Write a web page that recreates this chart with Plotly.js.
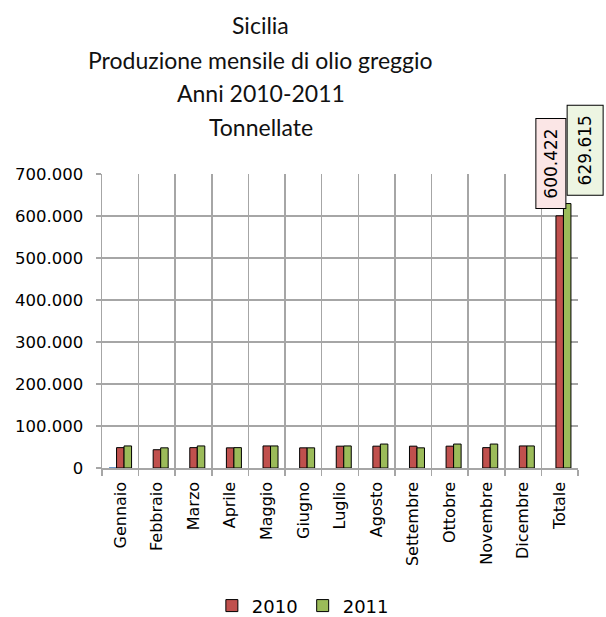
<!DOCTYPE html>
<html>
<head>
<meta charset="utf-8">
<script src="https://cdn.plot.ly/plotly-3.0.1.min.js"></script>
<style>
  html, body { margin: 0; padding: 0; background: #fff; }
  #chart { width: 606px; height: 617px; }
</style>
</head>
<body>
<div id="chart"></div>
<script>
const categories = ['Gennaio','Febbraio','Marzo','Aprile','Maggio','Giugno','Luglio','Agosto','Settembre','Ottobre','Novembre','Dicembre','Totale'];
const valuesHidden = [2000, 0, 0, 0, 0, 0, 0, 0, 0, 0, 0, 0, 0];
const values2010 = [48500, 43500, 48500, 48000, 52500, 48000, 52000, 52000, 52000, 52000, 48500, 52500, 600422];
const values2011 = [52500, 48000, 52500, 48500, 52500, 48000, 52500, 57000, 48000, 57000, 57000, 52500, 629615];
const seriesNames = ['2010', '2011'];
const titleLines = ['Sicilia', 'Produzione mensile di olio greggio', 'Anni 2010-2011', 'Tonnellate'];

function fmt(v) { return String(v).replace(/\B(?=(\d{3})+(?!\d))/g, '.'); }

const tickFontY = { family: 'DejaVu Sans, Verdana, sans-serif', size: 16.5, color: '#000' };
const tickFontX = { family: 'DejaVu Sans, Verdana, sans-serif', size: 16, color: '#000' };
const gridCol = '#A6A6A6';

const traces = [
  { type: 'bar', name: '', x: categories, y: valuesHidden, showlegend: false,
    marker: { color: '#4F81BD', line: { width: 0 } }, hoverinfo: 'skip' },
  { type: 'bar', name: seriesNames[0], x: categories, y: values2010,
    marker: { color: '#C0504D', line: { color: '#000', width: 1 } }, hoverinfo: 'x+y' },
  { type: 'bar', name: seriesNames[1], x: categories, y: values2011,
    marker: { color: '#9BBB59', line: { color: '#000', width: 1 } }, hoverinfo: 'x+y' }
];

const titleY = [1.507, 1.388, 1.276, 1.160];
const annotations = titleLines.map((t, i) => ({
  text: t, xref: 'paper', yref: 'paper', x: 0.334, y: titleY[i],
  xanchor: 'center', yanchor: 'middle', showarrow: false,
  font: { family: 'Lato, Carlito, sans-serif', size: 23, color: '#111' }
}));

const last = categories.length - 1;
const boxFont = { family: 'DejaVu Sans, Verdana, sans-serif', size: 17, color: '#000' };
annotations.push({
  x: categories[last], y: values2010[last], xref: 'x', yref: 'y',
  text: fmt(values2010[last]), textangle: -90, showarrow: false,
  xanchor: 'center', yanchor: 'bottom', xshift: -9, yshift: 7,
  width: 85, height: 25,
  bgcolor: '#FBE6E6', bordercolor: '#000', borderwidth: 1, borderpad: 2,
  font: boxFont
});
annotations.push({
  x: categories[last], y: values2011[last], xref: 'x', yref: 'y',
  text: fmt(values2011[last]), textangle: -90, showarrow: false,
  xanchor: 'center', yanchor: 'bottom', xshift: 25, yshift: 8,
  width: 85, height: 31,
  bgcolor: '#EDF5E2', bordercolor: '#000', borderwidth: 1, borderpad: 2,
  font: boxFont
});

const layout = {
  width: 606, height: 617,
  margin: { l: 102, r: 28, t: 174, b: 149, pad: 0, autoexpand: false },
  paper_bgcolor: '#fff', plot_bgcolor: '#fff',
  separators: ',.',
  barmode: 'group', bargap: 0.385, bargroupgap: 0,
  showlegend: true,
  legend: { orientation: 'h', x: 0.422, xanchor: 'center', y: -0.469, yanchor: 'middle',
            font: { family: 'DejaVu Sans, Verdana, sans-serif', size: 18, color: '#000' } },
  xaxis: {
    type: 'category', range: [-0.5, categories.length - 0.5], autorange: false,
    tickangle: -90, tickfont: tickFontX, ticklabelstandoff: 6,
    tickson: 'boundaries', ticks: 'outside', ticklen: 6, tickcolor: gridCol, tickwidth: 1.5,
    showgrid: true, gridcolor: gridCol, gridwidth: 1.5,
    showline: true, linecolor: gridCol, linewidth: 1.5, automargin: false
  },
  yaxis: {
    range: [0, 700000], autorange: false, tickvals: [0,100000,200000,300000,400000,500000,600000,700000],
    tickformat: ',d', tickfont: tickFontY, ticklabelstandoff: 9,
    ticks: 'outside', ticklen: 5, tickcolor: gridCol, tickwidth: 1.5,
    showgrid: true, gridcolor: gridCol, gridwidth: 1.5,
    showline: true, linecolor: gridCol, linewidth: 1.5, zeroline: false, automargin: false
  },
  annotations: annotations
};

Plotly.newPlot('chart', traces, layout, { displayModeBar: false, staticPlot: true });
</script>
</body>
</html>
